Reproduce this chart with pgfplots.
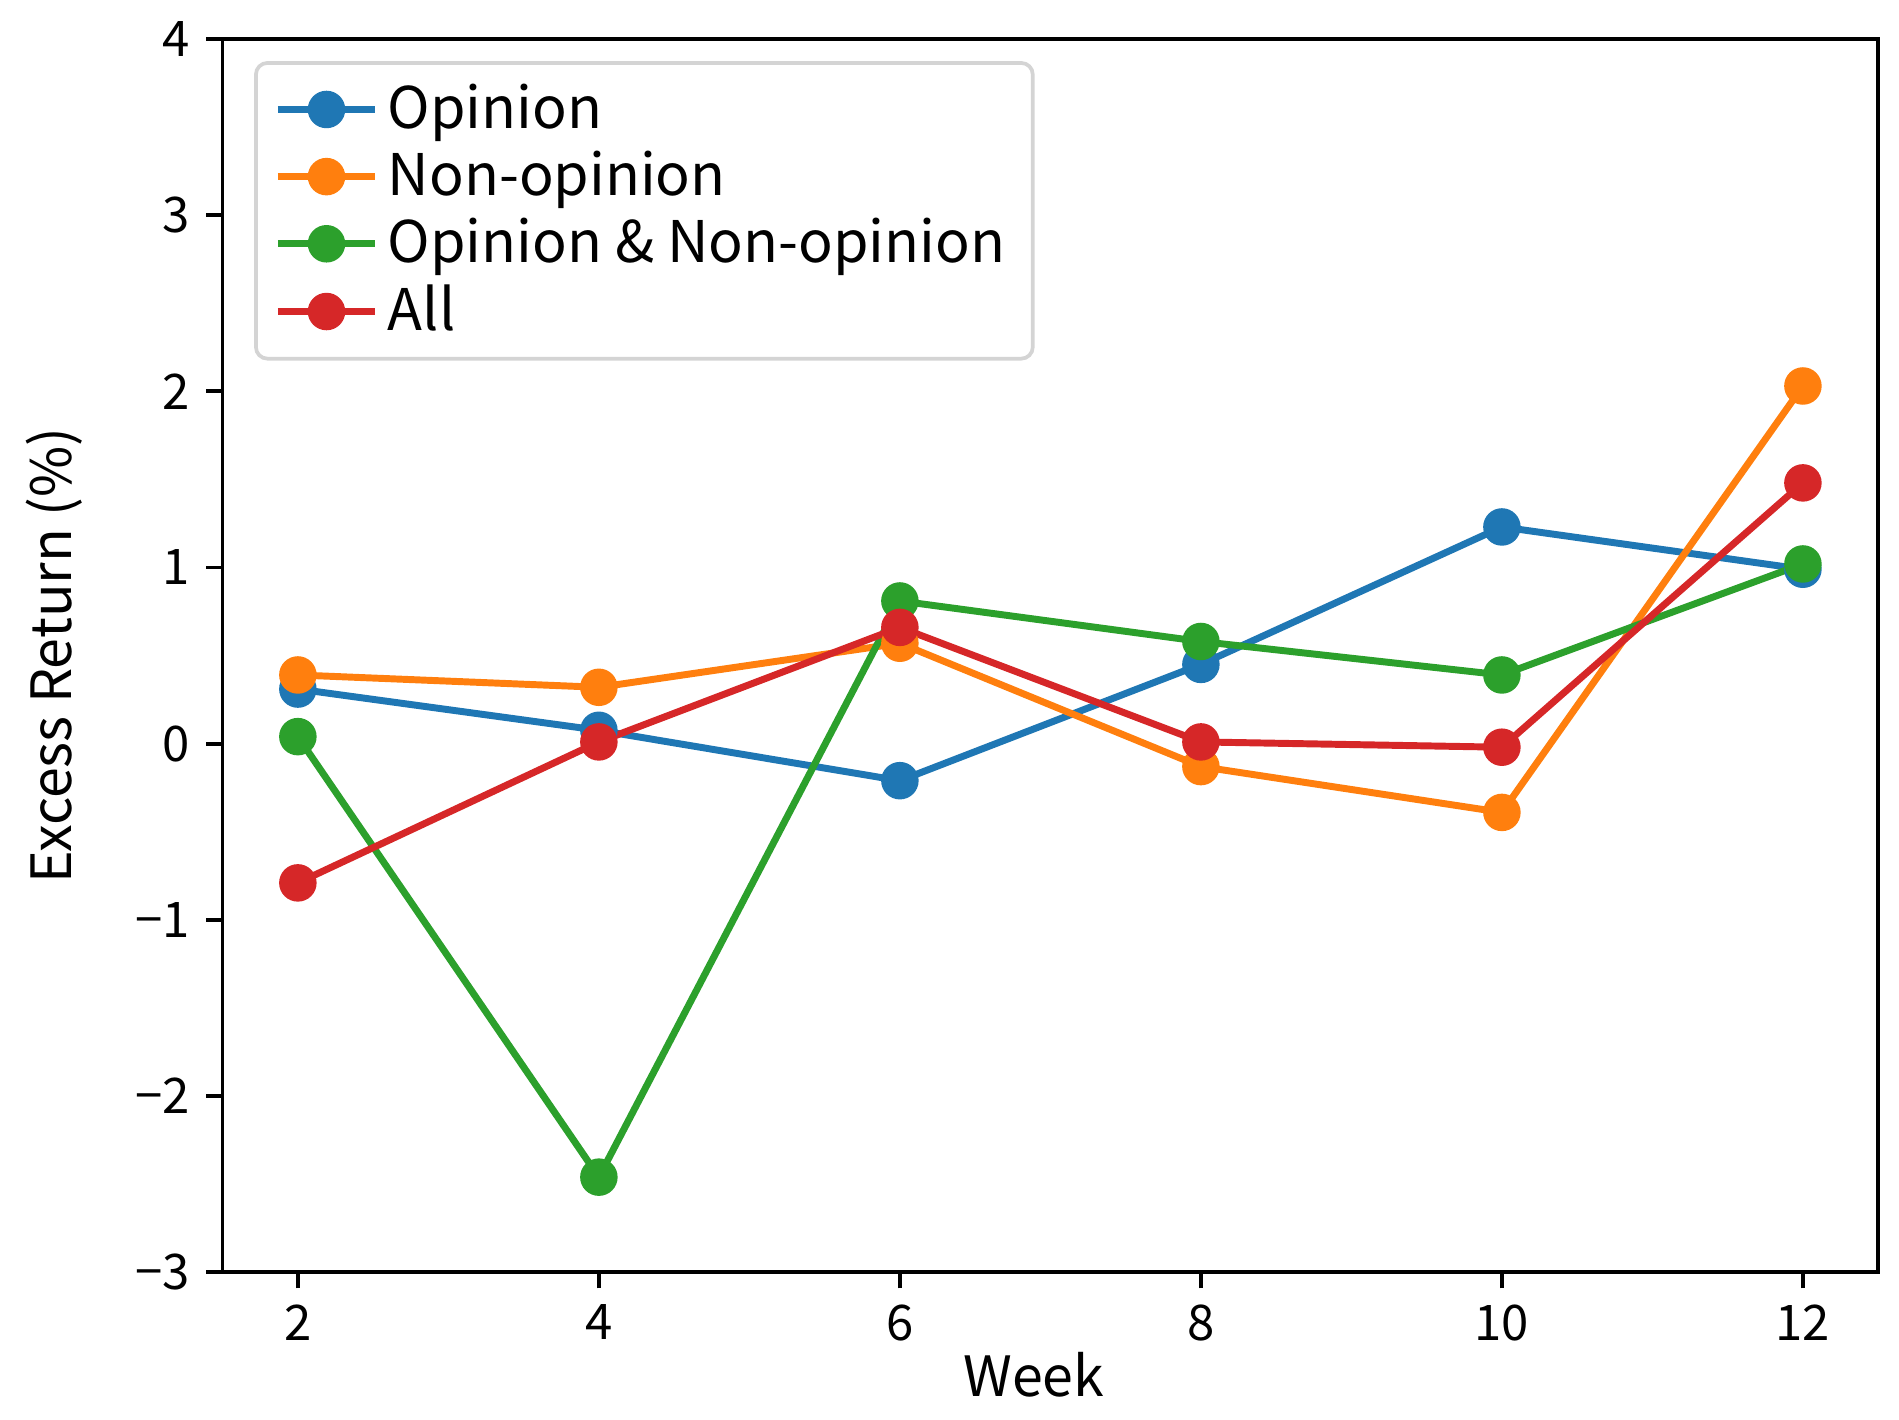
\documentclass[border=0pt]{standalone}
\usepackage{fontspec}
\setmainfont{Noto Sans CJK JP}
\usepackage{pgfplots}
\pgfplotsset{compat=1.18}

\definecolor{tabblue}{HTML}{1F77B4}
\definecolor{taborange}{HTML}{FF7F0E}
\definecolor{tabgreen}{HTML}{2CA02C}
\definecolor{tabred}{HTML}{D62728}

\begin{document}
\begin{tikzpicture}
% page frame: axis box 357.7pt x 266.5pt plus the margins of the reference
\useasboundingbox (-48.1pt,-31.8pt) rectangle (362.2pt,274.9pt);
\begin{axis}[
    scale only axis,
    width=357.7pt,
    height=266.5pt,
    xmin=1.5, xmax=12.5,
    ymin=-3, ymax=4,
    xtick={2,4,6,8,10,12},
    xticklabels={2,4,6,8,10,12},
    ytick={-3,-2,-1,0,1,2,3,4},
    yticklabels={−3,−2,−1,0,1,2,3,4},
    tick align=outside,
    major tick length=3.5pt,
    tick style={black, line width=0.8pt},
    axis line style={line width=0.8pt},
    xtick pos=bottom, ytick pos=left,
    ticklabel style={font=\fontsize{10.6}{12}\selectfont},
    label style={font=\fontsize{12}{14}\selectfont},
    xlabel={Week},
    ylabel={Excess Return (\%)},
    xlabel style={at={(axis description cs:0.49,-0.083)}, anchor=center},
    ylabel style={at={(axis description cs:-0.1015,0.5)}, anchor=center},
    every axis plot/.append style={line width=1.5pt, mark=*, mark size=3.3pt},
    legend style={at={(0.019,0.982)}, anchor=north west,
        draw=black!17, line width=0.8pt, rounded corners=2.5pt,
        fill=white,
        font=\fontsize{12.4}{14}\selectfont,
        inner xsep=4pt, inner ysep=2.5pt,
        row sep=-0.6pt},
    legend cell align=left,
    legend image code/.code={\draw[mark repeat=2, mark phase=2, #1]
        plot coordinates {(0pt,0pt) (10.5pt,0pt) (21pt,0pt)};},
]
\addplot[tabblue, mark options={solid, fill=tabblue}] coordinates {
    (2,0.31) (4,0.076) (6,-0.21) (8,0.45) (10,1.23) (12,0.99)};
\addplot[taborange, mark options={solid, fill=taborange}] coordinates {
    (2,0.39) (4,0.32) (6,0.57) (8,-0.13) (10,-0.39) (12,2.03)};
\addplot[tabgreen, mark options={solid, fill=tabgreen}] coordinates {
    (2,0.04) (4,-2.46) (6,0.81) (8,0.58) (10,0.39) (12,1.02)};
\addplot[tabred, mark options={solid, fill=tabred}] coordinates {
    (2,-0.79) (4,0.01) (6,0.66) (8,0.01) (10,-0.02) (12,1.48)};
\legend{Opinion, Non-opinion, Opinion \& Non-opinion, All}
\end{axis}
\end{tikzpicture}
\end{document}
